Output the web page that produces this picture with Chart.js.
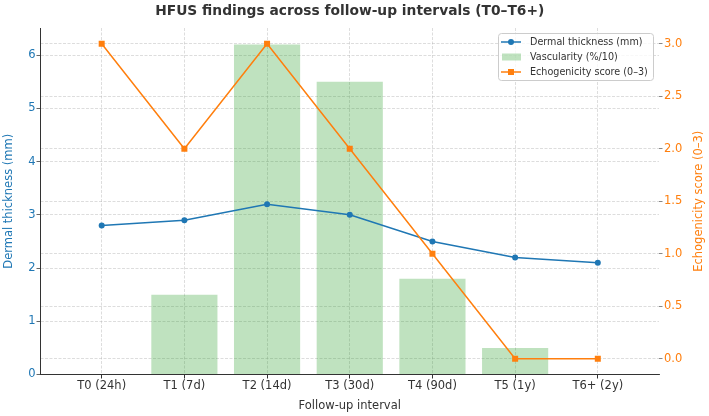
<!DOCTYPE html>
<html>
<head>
<meta charset="utf-8">
<script src="https://cdn.jsdelivr.net/npm/chart.js@4.4.1/dist/chart.umd.min.js"></script>
<style>
  html, body { margin: 0; padding: 0; background: #fff; }
</style>
</head>
<body>
<canvas id="hfusChart" width="709" height="416"></canvas>
<script>
// Data
const intervals = ["T0 (24h)", "T1 (7d)", "T2 (14d)", "T3 (30d)", "T4 (90d)", "T5 (1y)", "T6+ (2y)"];
const dermalThickness = [2.8, 2.9, 3.2, 3.0, 2.5, 2.2, 2.1];
const vascularity = [0, 1.5, 6.2, 5.5, 1.8, 0.5, 0];
const echogenicity = [3, 2, 3, 2, 1, 0, 0];
const leftTicks = [0, 1, 2, 3, 4, 5, 6];
const rightTicks = [0, 0.5, 1, 1.5, 2, 2.5, 3];

const chartTitle = "HFUS findings across follow-up intervals (T0\u2013T6+)";
const rightTitle = "Echogenicity score (0\u20133)";

const BLUE = "#1f77b4";
const ORANGE = "#ff7f0e";
const GREEN = "rgba(44,160,44,0.3)";
const TEXT = "#333333";
const GRID = "rgba(176,176,176,0.55)";
const FONT = "'DejaVu Sans', sans-serif";

Chart.defaults.font.family = FONT;
Chart.defaults.font.size = 11.5;
Chart.defaults.color = TEXT;

const toPoints = arr => arr.map((v, i) => ({ x: i, y: v }));

// title, right axis title and legend drawn by hand (matplotlib look)
const decor = {
    id: "decor",
    afterDraw(chart) {
        const c = chart.ctx;
        const area = chart.chartArea;
        c.save();

        c.fillStyle = TEXT;
        c.font = "bold 13.8px " + FONT;
        c.textAlign = "center";
        c.textBaseline = "middle";
        c.fillText(chartTitle, (area.left + area.right) / 2, 11);

        c.save();
        c.translate(699, (area.top + area.bottom) / 2);
        c.rotate(-Math.PI / 2);
        c.fillStyle = ORANGE;
        c.font = "11.5px " + FONT;
        c.fillText(rightTitle, 0, 0);
        c.restore();

        // legend box
        const bx = 498.5, by = 33.5, bw = 155, bh = 47;
        c.beginPath();
        c.roundRect(bx, by, bw, bh, 3);
        c.fillStyle = "rgba(255,255,255,0.8)";
        c.fill();
        c.strokeStyle = "#cccccc";
        c.lineWidth = 1;
        c.stroke();

        const ds = chart.data.datasets;
        const rows = [ds[1], ds[0], ds[2]];
        c.font = "9.6px " + FONT;
        c.textAlign = "left";
        rows.forEach((d, i) => {
            const y = 42 + i * 15;
            if (d.type === "bar") {
                c.fillStyle = GREEN;
                c.fillRect(502, y - 3.5, 19, 7);
            } else {
                c.strokeStyle = d.borderColor;
                c.lineWidth = 1.5;
                c.beginPath();
                c.moveTo(501, y);
                c.lineTo(521, y);
                c.stroke();
                c.fillStyle = d.borderColor;
                if (d.pointStyle === "rect") {
                    c.fillRect(508, y - 3, 6, 6);
                } else {
                    c.beginPath();
                    c.arc(511, y, 3, 0, Math.PI * 2);
                    c.fill();
                }
            }
            c.fillStyle = TEXT;
            c.fillText(d.label, 530, y);
        });

        c.restore();
    }
};

const ctx = document.getElementById("hfusChart").getContext("2d");

const hfusChart = new Chart(ctx, {
    data: {
        datasets: [
            {
                type: "bar",
                label: "Vascularity (%/10)",
                data: toPoints(vascularity),
                backgroundColor: GREEN,
                borderWidth: 0,
                categoryPercentage: 1,
                barPercentage: 0.8,
                xAxisID: "x",
                yAxisID: "yL",
                order: 3
            },
            {
                type: "line",
                label: "Dermal thickness (mm)",
                data: toPoints(dermalThickness),
                borderColor: BLUE,
                backgroundColor: BLUE,
                borderWidth: 1.5,
                pointStyle: "circle",
                pointRadius: 3,
                pointBorderWidth: 0,
                tension: 0,
                xAxisID: "x",
                yAxisID: "yL",
                order: 2
            },
            {
                type: "line",
                label: "Echogenicity score (0\u20133)",
                data: toPoints(echogenicity),
                borderColor: ORANGE,
                backgroundColor: ORANGE,
                borderWidth: 1.5,
                pointStyle: "rect",
                pointRadius: 4.25,
                pointBorderWidth: 0,
                tension: 0,
                xAxisID: "x",
                yAxisID: "yR",
                order: 1
            }
        ]
    },
    options: {
        responsive: false,
        animation: false,
        devicePixelRatio: 1,
        layout: { padding: { top: 28, left: 0, right: 0, bottom: 0 } },
        plugins: {
            legend: { display: false },
            title: { display: false },
            tooltip: { enabled: false }
        },
        scales: {
            x: {
                type: "linear",
                position: "bottom",
                offset: false,
                min: -0.74,
                max: 6.74,
                afterBuildTicks: s => { s.ticks = intervals.map((_, i) => ({ value: i })); },
                afterFit: s => { s.height = 41.5; },
                ticks: {
                    padding: 1,
                    color: TEXT,
                    callback: v => intervals[v]
                },
                grid: {
                    offset: false,
                    color: GRID,
                    lineWidth: 0.8,
                    tickLength: 4,
                    tickColor: TEXT,
                    tickWidth: 1,
                    tickBorderDash: []
                },
                border: { display: true, color: TEXT, width: 1, dash: [3, 1.5] },
                title: {
                    display: true,
                    text: "Follow-up interval",
                    color: TEXT,
                    padding: { top: 0, bottom: 3 }
                }
            },
            yL: {
                type: "linear",
                position: "left",
                min: 0,
                max: 6.51,
                afterBuildTicks: s => { s.ticks = leftTicks.map(v => ({ value: v })); },
                afterFit: s => { s.width = 40.5; },
                ticks: { padding: 1, color: BLUE },
                grid: {
                    color: GRID,
                    lineWidth: 0.8,
                    tickLength: 4,
                    tickColor: "#666",
                    tickWidth: 1,
                    tickBorderDash: []
                },
                border: { display: true, color: TEXT, width: 1, dash: [3, 1.5] },
                title: {
                    display: true,
                    text: "Dermal thickness (mm)",
                    color: BLUE,
                    padding: { top: 2, bottom: 0 }
                }
            },
            yR: {
                type: "linear",
                position: "right",
                min: -0.15,
                max: 3.15,
                afterBuildTicks: s => { s.ticks = rightTicks.map(v => ({ value: v })); },
                afterFit: s => { s.width = 50; },
                ticks: { padding: 1.5, color: ORANGE, callback: v => v.toFixed(1) },
                grid: {
                    color: GRID,
                    lineWidth: 0.8,
                    tickLength: 3.5,
                    tickColor: "#888",
                    tickWidth: 1,
                    tickBorderDash: []
                },
                border: { display: false, dash: [3, 1.5] },
                title: { display: false }
            }
        }
    },
    plugins: [decor]
});
</script>
</body>
</html>
